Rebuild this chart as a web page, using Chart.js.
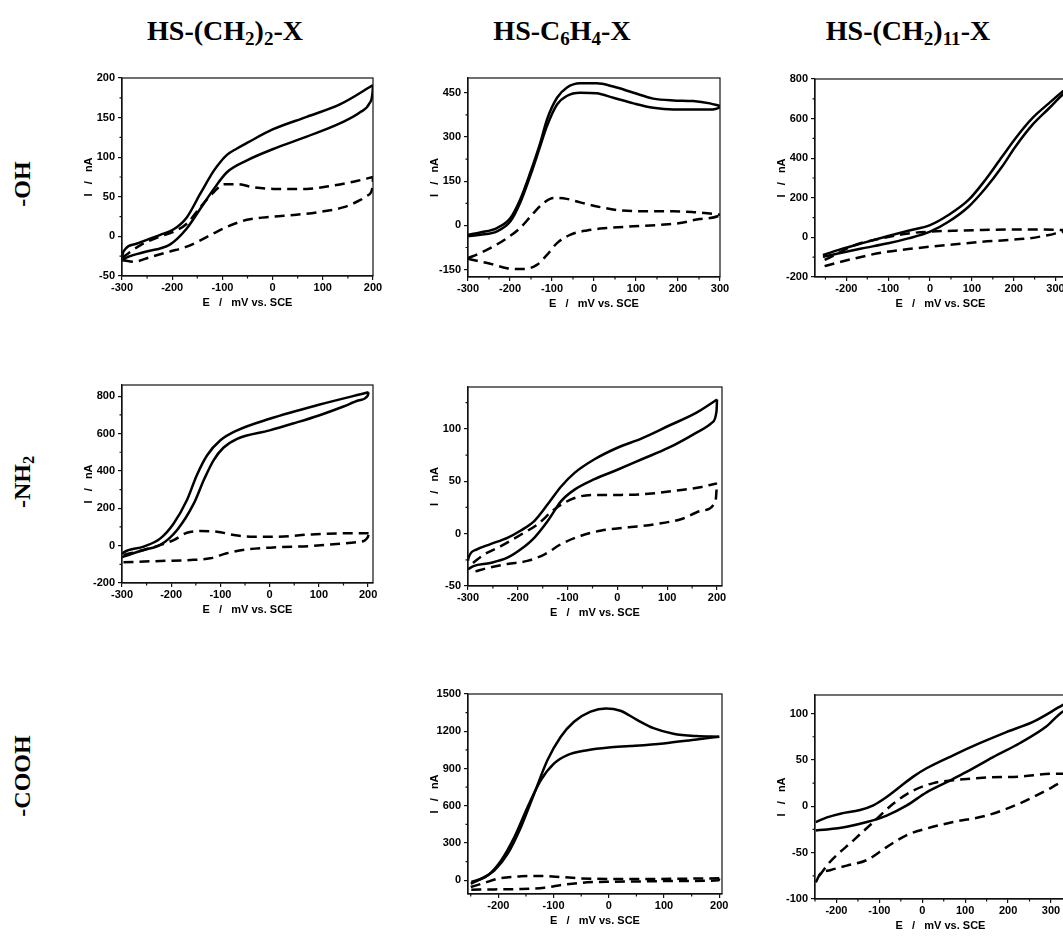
<!DOCTYPE html>
<html>
<head>
<meta charset="utf-8">
<script src="https://cdn.jsdelivr.net/npm/chart.js@4.4.0/dist/chart.umd.min.js"></script>
<style>
html, body { margin:0; padding:0; background:#fff; width:1063px; height:942px; overflow:hidden; }
.title { position:absolute; font-family:"Liberation Serif","Times New Roman",serif; font-weight:bold; font-size:28px; color:#000;
  transform:translate(-50%,-50%); white-space:nowrap; }
.rowlab { position:absolute; font-family:"Liberation Serif","Times New Roman",serif; font-weight:bold; font-size:24px; color:#000;
  transform:translate(-50%,-50%) rotate(-90deg); white-space:nowrap; }
sub { font-size:68%; vertical-align:-0.28em; line-height:0; }
canvas { position:absolute; }
</style>
</head>
<body>
<div class="title" style="left:225px;top:31px">HS-(CH<sub>2</sub>)<sub>2</sub>-X</div>
<div class="title" style="left:562px;top:31px">HS-C<sub>6</sub>H<sub>4</sub>-X</div>
<div class="title" style="left:908px;top:31px">HS-(CH<sub>2</sub>)<sub>11</sub>-X</div>
<div class="rowlab" style="left:22px;top:184px">-OH</div>
<div class="rowlab" style="left:22px;top:482px">-NH<sub>2</sub></div>
<div class="rowlab" style="left:22px;top:776px">-COOH</div>
<script>
// 実線 = 溶液あり, 破線 = ブランク。どれもループ（左→右→左）で並べる。

// -OH / HS-(CH2)2-X
let ohC2SolidE = [-300,-297,-270,-224,-197,-171,-144,-117,-104,-91,-71,-51,0,68,135,200, 199,193,175,135,68,0,-51,-91,-117,-144,-171,-204,-257,-297,-300];
let ohC2SolidI = [-26,-19,-9,2,9,24,54,83,94,103,111,118,135,151,167,191, 181,168,157,143,126,110,96,81,60,35,10,-10,-20,-29,-31];
let ohC2DashE = [-300,-263,-224,-197,-171,-144,-117,-97,-71,-38,2,68,108,161,200, 199,190,175,142,95,42,2,-51,-91,-117,-144,-171,-204,-243,-277,-298];
let ohC2DashI = [-27,-11,0,6,16,37,56,66,66,62,60,60,63,69,75, 62,52,46,37,31,27,25,21,12,4,-5,-13,-19,-26,-32,-30];

// -OH / HS-C6H4-X
let ohPhSolidE = [-300,-271,-231,-199,-176,-152,-128,-112,-88,-65,-33,6,46,94,141,189,236,276,300, 299,276,236,189,141,94,46,6,-33,-65,-88,-112,-128,-152,-176,-199,-231,-271,-300];
let ohPhSolidI = [-32,-24,-9,25,87,178,280,359,433,467,482,482,471,450,430,424,422,414,405, 401,393,393,393,399,414,433,448,450,439,410,337,269,167,76,14,-20,-32,-37];
let ohPhDashE = [-300,-271,-239,-207,-176,-144,-120,-96,-65,-33,15,62,125,189,236,276,300, 299,252,205,157,94,30,-17,-57,-88,-112,-136,-168,-207,-247,-279,-300];
let ohPhDashI = [-111,-94,-71,-43,-9,42,76,93,90,78,62,51,48,48,45,40,36, 34,22,8,2,-3,-9,-17,-32,-60,-100,-134,-148,-145,-130,-120,-113];

// -OH / HS-(CH2)11-X
let ohC11SolidE = [-256,-220,-164,-100,-52,0,44,92,132,172,204,244,284,323,332, 331,323,284,244,204,172,132,92,44,0,-52,-100,-164,-220,-256];
let ohC11SolidI = [-89,-64,-30,7,34,62,113,189,290,407,500,601,677,747,760, 748,732,651,567,458,357,247,155,79,29,-5,-30,-56,-81,-98];
let ohC11DashE = [-252,-228,-180,-116,-52,0,60,124,188,260,323,332, 331,323,284,236,188,124,60,0,-52,-116,-180,-228,-252];
let ohC11DashI = [-114,-89,-39,-5,20,29,34,37,40,40,37,36, 30,29,12,-5,-13,-22,-35,-47,-59,-77,-106,-131,-145];

// -NH2 / HS-(CH2)2-X
let nh2C2SolidE = [-300,-297,-256,-222,-195,-168,-148,-127,-100,-66,0,100,201, 199,180,150,100,49,0,-66,-94,-114,-134,-154,-188,-222,-256,-297,-300];
let nh2C2SolidI = [-45,-37,-5,39,119,244,377,484,564,617,679,754,821, 802,777,745,697,655,617,572,524,457,350,226,84,4,-23,-59,-62];
let nh2C2DashE = [-297,-256,-222,-195,-168,-141,-107,-73,-32,15,83,150,201, 200,184,150,83,15,-46,-87,-121,-154,-222,-297];
let nh2C2DashI = [-50,-23,4,30,69,78,75,57,48,48,60,66,66, 48,21,12,-2,-9,-20,-41,-68,-76,-82,-89];

// -NH2 / HS-C6H4-X
let nh2PhSolidE = [-300,-299,-282,-255,-221,-194,-167,-140,-113,-86,-46,0,49,103,157,200, 199,190,157,103,49,0,-46,-86,-113,-140,-167,-194,-221,-255,-289,-300];
let nh2PhSolidI = [-26,-23,-15,-10,-4,3,12,28,45,58,71,82,91,103,115,128, 117,106,96,82,71,61,52,42,31,12,-4,-15,-23,-28,-31,-34];
let nh2PhDashE = [-290,-268,-234,-194,-160,-127,-86,-46,8,62,116,163,190,200, 197,170,129,75,22,-32,-73,-113,-147,-181,-221,-262,-285];
let nh2PhDashI = [-28,-20,-12,-1,9,23,34,37,37,38,41,44,47,48, 31,22,14,9,6,3,-2,-10,-20,-26,-29,-33,-36];

// -COOH / HS-C6H4-X
let coohPhSolidE = [-249,-231,-207,-183,-159,-135,-111,-87,-63,-33,-5,21,51,81,117,159,200, 159,99,39,0,-39,-75,-99,-123,-147,-171,-195,-219,-237,-250];
let coohPhSolidI = [-13,13,81,215,430,699,968,1156,1277,1358,1384,1365,1292,1225,1180,1161,1156, 1134,1102,1081,1070,1048,1008,941,806,591,349,161,40,0,-27];
let coohPhDashE = [-250,-225,-201,-159,-123,-87,-51,3,69,129,200, 199,129,69,9,-39,-81,-117,-159,-207,-249];
let coohPhDashI = [-54,-20,13,32,35,27,16,11,11,13,16, 0,-5,-8,-11,-16,-35,-59,-70,-73,-75];

// -COOH / HS-(CH2)11-X
let coohC11SolidE = [-248,-222,-191,-145,-114,-83,-52,-21,10,72,134,196,258,327,335, 334,327,289,227,165,103,57,10,-36,-83,-129,-176,-222,-248];
let coohC11SolidI = [-17,-12,-8,-4,1,10,21,32,41,55,68,80,91,109,111, 106,102,86,68,53,37,26,15,1,-10,-17,-22,-25,-26];
let coohC11DashE = [-240,-215,-161,-114,-67,-21,26,72,150,227,305,335, 334,327,289,227,150,72,10,-36,-83,-129,-176,-215,-238,-248];
let coohC11DashI = [-75,-60,-37,-17,3,17,25,28,31,32,35,35, 29,26,17,3,-10,-17,-24,-31,-44,-58,-64,-69,-73,-82];

// 目盛りラベル
let xTicks300to200 = [-300,-200,-100,0,100,200];
let xTicks300to300 = [-300,-200,-100,0,100,200,300];
let xTicks200to300 = [-200,-100,0,100,200,300];
let xTicks200to200 = [-200,-100,0,100,200];
let yTicksOhC2 = [-50,0,50,100,150,200];
let yTicksOhPh = [-150,0,150,300,450];
let yTicksOhC11 = [-200,0,200,400,600,800];
let yTicksNh2C2 = [-200,0,200,400,600,800];
let yTicksNh2Ph = [-50,0,50,100];
let yTicksCoohPh = [0,300,600,900,1200,1500];
let yTicksCoohC11 = [-100,-50,0,50,100];

// パネルの位置（プロット領域の左,上,右,下）と軸範囲
let panels = [
  {L:121.7, T:77.7, R:372.7, B:276,   x:[-300,200], y:[-50,200],  xt:xTicks300to200, yt:yTicksOhC2,  sE:ohC2SolidE, sI:ohC2SolidI, dE:ohC2DashE, dI:ohC2DashI},
  {L:467.7, T:78.3, R:720,   B:277,   x:[-300,300], y:[-175,500], xt:xTicks300to300, yt:yTicksOhPh,  sE:ohPhSolidE, sI:ohPhSolidI, dE:ohPhDashE, dI:ohPhDashI},
  {L:815,   T:79,   R:1066,  B:277.3, x:[-275,325], y:[-200,800], xt:xTicks200to300, yt:yTicksOhC11, sE:ohC11SolidE, sI:ohC11SolidI, dE:ohC11DashE, dI:ohC11DashI},
  {L:121.7, T:385,  R:372.7, B:582.7, x:[-300,210], y:[-200,860], xt:xTicks300to200, yt:yTicksNh2C2, sE:nh2C2SolidE, sI:nh2C2SolidI, dE:nh2C2DashE, dI:nh2C2DashI},
  {L:467.7, T:386.7,R:722,   B:585.7, x:[-300,210], y:[-50,140],  xt:xTicks300to200, yt:yTicksNh2Ph, sE:nh2PhSolidE, sI:nh2PhSolidI, dE:nh2PhDashE, dI:nh2PhDashI},
  {L:468.3, T:694,  R:722,   B:894,   x:[-255,205], y:[-110,1500],xt:xTicks200to200, yt:yTicksCoohPh, sE:coohPhSolidE, sI:coohPhSolidI, dE:coohPhDashE, dI:coohPhDashI},
  {L:815,   T:695,  R:1066,  B:899,   x:[-250,335], y:[-100,120], xt:xTicks200to300, yt:yTicksCoohC11, sE:coohC11SolidE, sI:coohC11SolidI, dE:coohC11DashE, dI:coohC11DashI}
];

// ループを往路と復路に分ける（どちらも x 昇順にして monotone 補間を使う）
let branches = function(E, I){
  let k = 0;
  for(let i = 1; i < E.length; i++){ if(E[i] > E[k]) k = i; }
  let fwd = [], back = [];
  for(let i = 0; i <= k; i++){ fwd.push({x:E[i], y:I[i]}); }
  for(let i = E.length - 1; i >= k; i--){ back.push({x:E[i], y:I[i]}); }
  return [fwd, back];
};

// 補助目盛り（主目盛りの中間）
let minorOf = function(t, lo, hi){
  let step = t[1] - t[0];
  let out = [];
  for(let v = t[0] - step/2; v <= hi; v += step){ if(v >= lo) out.push(v); }
  return out;
};

// 枠と補助目盛りを描くプラグイン
let framePlugin = {
  id: 'frame',
  afterDraw: function(chart, args, opts){
    let ctx = chart.ctx, a = chart.chartArea;
    let xs = chart.scales.x, ys = chart.scales.y;
    ctx.save();
    ctx.strokeStyle = '#111';
    ctx.lineWidth = 1.2;
    ctx.strokeRect(a.left, a.top, a.right - a.left, a.bottom - a.top);
    ctx.beginPath();
    opts.xMinor.forEach(function(v){
      let px = xs.getPixelForValue(v);
      ctx.moveTo(px, a.bottom); ctx.lineTo(px, a.bottom + 2.5);
    });
    opts.yMinor.forEach(function(v){
      let py = ys.getPixelForValue(v);
      ctx.moveTo(a.left, py); ctx.lineTo(a.left - 2.5, py);
    });
    ctx.stroke();
    ctx.restore();
  }
};

let tickFont = {family:'"Liberation Sans", Arial, sans-serif', weight:'bold', size:11};
let YW = 40, XH = 34, PT = 10, PR = 16;

let lineSet = function(pts, dashed){
  return {data:pts, showLine:true, borderColor:'#000', borderWidth:2.5, borderDash:dashed ? [10,6] : [],
          pointRadius:0, cubicInterpolationMode:'monotone', fill:false};
};

let makePanel = function(p){
  let cv = document.createElement('canvas');
  cv.width = Math.round(YW + (p.R - p.L) + PR);
  cv.height = Math.round(PT + (p.B - p.T) + XH);
  cv.style.left = (p.L - YW) + 'px';
  cv.style.top = (p.T - PT) + 'px';
  document.body.appendChild(cv);
  let s = branches(p.sE, p.sI), d = branches(p.dE, p.dI);
  new Chart(cv, {
    type: 'scatter',
    data: { datasets: [lineSet(s[0], false), lineSet(s[1], false), lineSet(d[0], true), lineSet(d[1], true)] },
    options: {
      responsive:false,
      animation:false,
      devicePixelRatio:1,
      layout:{padding:{left:0, top:PT, right:PR, bottom:0}},
      plugins:{
        legend:{display:false},
        tooltip:{enabled:false},
        frame:{xMinor:minorOf(p.xt, p.x[0], p.x[1]), yMinor:minorOf(p.yt, p.y[0], p.y[1])}
      },
      scales:{
        x:{
          type:'linear', min:p.x[0], max:p.x[1],
          afterFit: function(s){ s.height = XH; },
          afterBuildTicks: function(s){ s.ticks = p.xt.map(function(v){ return {value:v}; }); },
          grid:{drawOnChartArea:false, tickLength:4, color:'#111', lineWidth:1.2},
          border:{color:'#111', width:1.2},
          ticks:{color:'#000', font:tickFont, padding:1, maxRotation:0, autoSkip:false, callback:function(v){ return String(v); }},
          title:{display:true, text:'E   /   mV vs. SCE', color:'#000', font:tickFont, padding:0}
        },
        y:{
          type:'linear', min:p.y[0], max:p.y[1],
          afterFit: function(s){ s.width = YW; },
          afterBuildTicks: function(s){ s.ticks = p.yt.map(function(v){ return {value:v}; }); },
          grid:{drawOnChartArea:false, tickLength:4, color:'#111', lineWidth:1.2},
          border:{color:'#111', width:1.2},
          ticks:{color:'#000', font:tickFont, padding:3, autoSkip:false, callback:function(v){ return String(v); }},
          title:{display:true, text:'I   /   nA', color:'#000', font:tickFont, padding:0}
        }
      }
    },
    plugins:[framePlugin]
  });
};

for(let i = 0; i < panels.length; i++){ makePanel(panels[i]); }
</script>
</body>
</html>
